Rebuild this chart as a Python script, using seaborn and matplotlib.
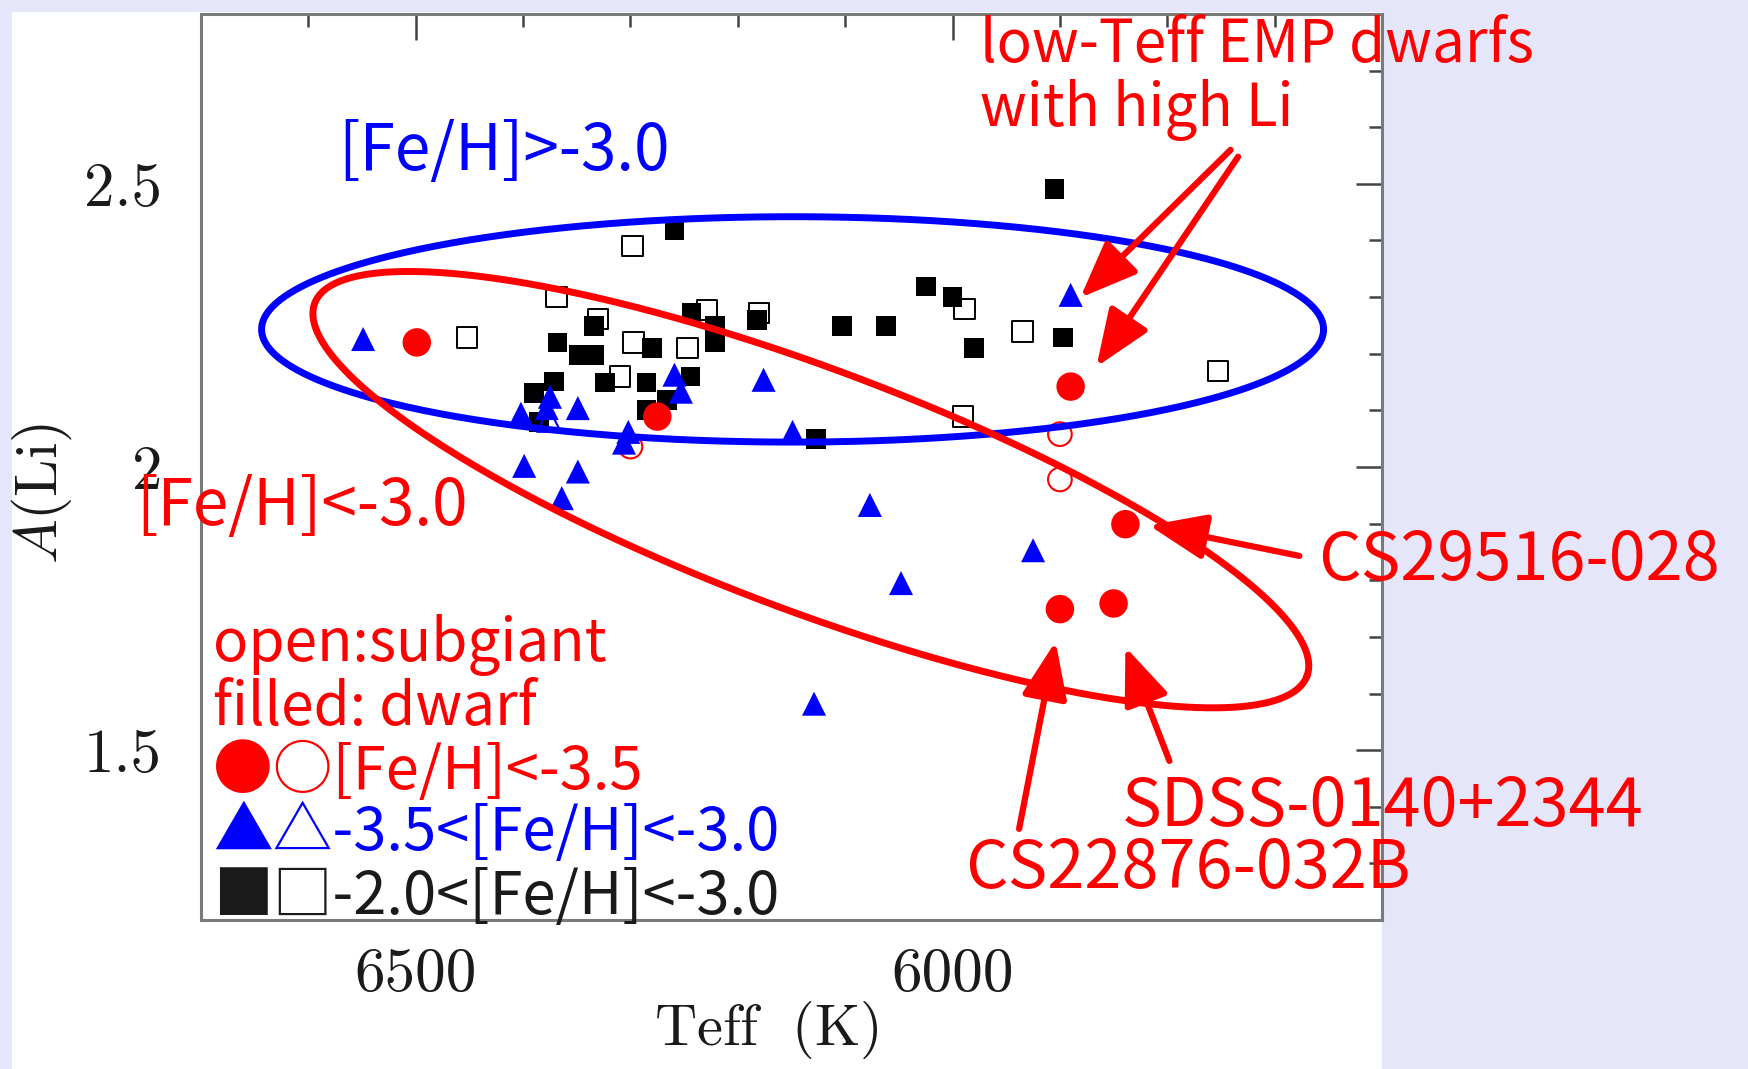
import numpy as np
import matplotlib
matplotlib.use("Agg")
import matplotlib.pyplot as plt
import seaborn as sns
from matplotlib.patches import Rectangle
from matplotlib.ticker import MultipleLocator

# ---------------- data (Teff [K], A(Li)) ----------------
dwarf_sq_teff = [6334, 6368, 6348, 6334, 6280, 6371, 6390, 6324, 6285, 6244, 6266, 6285, 6385,
                 6243, 6259, 6221, 6221, 6182, 6103, 6062, 6025, 6127, 5905, 6000, 5980, 5897]
dwarf_sq_ali = [2.249, 2.220, 2.198, 2.198, 2.210, 2.151, 2.131, 2.149, 2.149, 2.160, 2.118, 2.101, 2.080,
                2.272, 2.419, 2.249, 2.220, 2.260, 2.249, 2.249, 2.319, 2.049, 2.491, 2.300, 2.210, 2.229]

sub_sq_teff = [6369, 6330, 6297, 6247, 6310, 6229, 6298, 6180, 5989, 5935, 5990, 5753, 6452]
sub_sq_ali = [2.300, 2.261, 2.220, 2.210, 2.160, 2.277, 2.390, 2.272, 2.279, 2.239, 2.089, 2.169, 2.229]

dwarf_ci_teff = [6499, 6275, 5890, 5839, 5900, 5850]
dwarf_ci_ali = [2.220, 2.089, 2.142, 1.899, 1.749, 1.759]

sub_ci_teff = [5900, 5900, 6300]
sub_ci_ali = [2.058, 1.978, 2.036]

dwarf_tr_teff = [6549, 6402, 6375, 6378, 6349, 6259, 6253, 6302, 6306, 6399, 6349, 6364,
                 6176, 6149, 5890, 5925, 6048, 6077, 6129]
dwarf_tr_ali = [2.226, 2.094, 2.124, 2.104, 2.104, 2.163, 2.133, 2.062, 2.043, 2.002, 1.992, 1.945,
                2.154, 2.062, 2.304, 1.853, 1.795, 1.933, 1.582]

sub_tr_teff = [6376]
sub_tr_ali = [2.083]

x_ticks = [6500, 6000]
x_ticklabels = ["6500", "6000"]
y_ticks = [1.5, 2.0, 2.5]
y_ticklabels = ["1.5", "2", "2.5"]

# ---------------- style ----------------
sns.set_theme(style="white")
plt.rcParams["font.family"] = ["Noto Sans CJK JP", "DejaVu Sans"]
plt.rcParams["mathtext.fontset"] = "cm"

RED = "#FF0000"
BLUE = "#0000FF"
W, H = 1748, 1069
fig = plt.figure(figsize=(W / 100, H / 100), dpi=100)
fig.patch.set_facecolor("#E6E6FA")
fig.add_artist(Rectangle((12 / W, 0), (1382 - 12) / W, (H - 12) / H, transform=fig.transFigure,
                         facecolor="white", edgecolor="none", zorder=-10))

ax = fig.add_axes([201 / W, (H - 920) / H, 1181 / W, 906 / H])
ax.set_facecolor("white")
ax.set_xlim(6700, 5600)
ax.set_ylim(1.2, 2.8)

# ---------------- points ----------------
sns.scatterplot(x=sub_sq_teff, y=sub_sq_ali, marker="s", s=215, facecolor="none",
                edgecolor="black", linewidth=1.4, ax=ax, zorder=2)
sns.scatterplot(x=dwarf_sq_teff, y=dwarf_sq_ali, marker="s", s=200, color="black",
                edgecolor="none", linewidth=0, ax=ax, zorder=3)
sns.scatterplot(x=sub_ci_teff, y=sub_ci_ali, marker="o", s=290, facecolor="none",
                edgecolor=RED, linewidth=1.5, ax=ax, zorder=3)
sns.scatterplot(x=sub_tr_teff, y=sub_tr_ali, marker="^", s=290, facecolor="none",
                edgecolor=BLUE, linewidth=1.5, ax=ax, zorder=3)
sns.scatterplot(x=dwarf_tr_teff, y=dwarf_tr_ali, marker="^", s=300, color=BLUE,
                edgecolor="none", linewidth=0, ax=ax, zorder=4)
sns.scatterplot(x=dwarf_ci_teff, y=dwarf_ci_ali, marker="o", s=420, color=RED,
                edgecolor="none", linewidth=0, ax=ax, zorder=4)

# ---------------- axes cosmetics ----------------
ax.set_xticks(x_ticks)
ax.set_xticklabels(x_ticklabels, fontfamily="cmr10", fontsize=44, color="#1a1a1a")
ax.set_yticks(y_ticks)
ax.set_yticklabels(y_ticklabels, fontfamily="cmr10", fontsize=44, color="#1a1a1a")
ax.xaxis.set_minor_locator(MultipleLocator(100))
ax.yaxis.set_minor_locator(MultipleLocator(0.1))
ax.tick_params(which="both", direction="in", top=True, right=True, color="#444444", width=1.8)
ax.tick_params(which="major", length=19)
ax.tick_params(which="minor", length=9.5)
ax.tick_params(axis="x", which="major", pad=20)
ax.tick_params(axis="y", which="major", pad=28)
for sp in ax.spines.values():
    sp.set_color("#7a7a7a")
    sp.set_linewidth(2.2)
ax.grid(False)

ax.set_xlabel(r"$\mathrm{Teff\ \ (K)}$", fontsize=42, color="#1a1a1a")
ax.set_ylabel(r"$A\mathrm{(Li)}$", fontsize=43, color="#1a1a1a")
ax.xaxis.set_label_coords((766 - 201) / 1181, (920 - 999) / 906)
ax.yaxis.set_label_coords((74 - 201) / 1181, (920 - 493) / 906)
ax.yaxis.label.set_va("bottom")


# ---------------- ellipses (annotation) ----------------
def draw_ellipse(cT, cA, a_px, b_px, angle_deg, color):
    cx, cy = ax.transData.transform((cT, cA))
    t = np.linspace(0, 2 * np.pi, 600)
    th = np.deg2rad(angle_deg)
    xs = cx + a_px * np.cos(t) * np.cos(th) - b_px * np.sin(t) * np.sin(th)
    ys = cy + a_px * np.cos(t) * np.sin(th) + b_px * np.sin(t) * np.cos(th)
    pts = ax.transData.inverted().transform(np.column_stack([xs, ys]))
    ax.plot(pts[:, 0], pts[:, 1], color=color, lw=5, zorder=6, clip_on=False)


draw_ellipse(6149, 2.243, 531, 112.7, 0.0, BLUE)
draw_ellipse(6132, 1.960, 530, 121, -20.6, RED)

# ---------------- arrows (annotation) ----------------
arrows = [((5741, 2.560), (5881, 2.299)),
          ((5734, 2.548), (5866, 2.177)),
          ((5677, 1.843), (5817, 1.897)),
          ((5938, 1.361), (5904, 1.692)),
          ((5798, 1.481), (5839, 1.682))]
for tail, tip in arrows:
    ax.annotate("", xy=tip, xytext=tail, xycoords="data", textcoords="data",
                annotation_clip=False, zorder=7,
                arrowprops=dict(arrowstyle="-|>,head_length=1.75,head_width=0.7", mutation_scale=20,
                                lw=4.5, color=RED, shrinkA=0, shrinkB=0))


# ---------------- texts ----------------
def ftext(px, py, s, color, size=42):
    fig.text(px / W, 1 - py / H, s, color=color, fontsize=size, ha="left", va="baseline",
             family=["Noto Sans CJK JP", "DejaVu Sans"], zorder=10)


ftext(338, 170, "[Fe/H]>-3.0", BLUE, 46)
ftext(136, 525, "[Fe/H]<-3.0", RED, 46)
ftext(980, 62, "low-Teff EMP dwarfs", RED)
ftext(980, 125.7, "with high Li", RED)
ftext(213, 661.5, "open:subgiant", RED)
ftext(213, 725, "filled: dwarf", RED)
ftext(213, 788.5, "●○[Fe/H]<-3.5", RED, 43)
ftext(213, 850, "▲△-3.5<[Fe/H]<-3.0", BLUE, 43)
ftext(213, 913.6, "■□-2.0<[Fe/H]<-3.0", "#1a1a1a", 43)
ftext(1318, 580, "CS29516-028", RED, 48)
ftext(1122, 826, "SDSS-0140+2344", RED, 48)
ftext(965, 888, "CS22876-032B", RED, 48)

fig.savefig("out.png", dpi=100, facecolor=fig.get_facecolor())
